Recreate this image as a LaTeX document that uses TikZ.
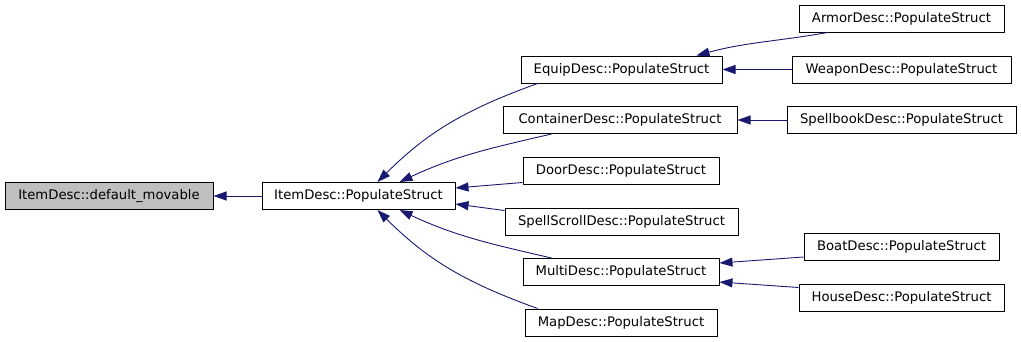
\documentclass[tikz,border=0pt]{standalone}
\usepackage{fontspec}
\setmainfont{DejaVu Sans}
\usetikzlibrary{arrows.meta}
\definecolor{edgecol}{HTML}{191970}
\definecolor{grayfill}{HTML}{BFBFBF}
\tikzset{
  box/.style={draw=black, line width=1pt, rectangle, minimum height=27pt, inner sep=0pt,
    font=\fontsize{13.2}{15}\selectfont, fill=white},
  edge/.style={draw=edgecol, line width=0.9pt, -{Triangle[length=13pt,width=9pt,fill=edgecol]}},
}
\begin{document}
\begin{tikzpicture}[x=1pt,y=-1pt]
\useasboundingbox (0,0) rectangle (1021,341);
\node[box, fill=grayfill, minimum width=208pt] (dm) at (109,196) {ItemDesc::default\_movable};
\node[box, minimum width=193pt] (ip) at (358.5,196) {ItemDesc::PopulateStruct};
\node[box, minimum width=201pt] (eq) at (621.5,69.5) {EquipDesc::PopulateStruct};
\node[box, minimum width=234pt] (co) at (620,120) {ContainerDesc::PopulateStruct};
\node[box, minimum width=196pt] (do) at (621,170.5) {DoorDesc::PopulateStruct};
\node[box, minimum width=233pt] (ss) at (621.5,221.5) {SpellScrollDesc::PopulateStruct};
\node[box, minimum width=196pt] (mu) at (621,272) {MultiDesc::PopulateStruct};
\node[box, minimum width=192pt] (ma) at (621,322.5) {MapDesc::PopulateStruct};
\node[box, minimum width=205pt] (ar) at (901.5,18.5) {ArmorDesc::PopulateStruct};
\node[box, minimum width=219pt] (we) at (901.5,69.5) {WeaponDesc::PopulateStruct};
\node[box, minimum width=229pt] (sb) at (901.5,120) {SpellbookDesc::PopulateStruct};
\node[box, minimum width=195pt] (bo) at (901.5,247) {BoatDesc::PopulateStruct};
\node[box, minimum width=205pt] (ho) at (901.5,297.5) {HouseDesc::PopulateStruct};

\draw[edge] (ip.west) -- (dm.east);
\draw[edge] ([xshift=17pt]eq.south west) to[out=200,in=45] ([xshift=116pt]ip.north west);
\draw[edge] ([xshift=49pt]co.south west) to[out=193,in=25] ([xshift=138pt]ip.north west);
\draw[edge] ([yshift=2pt]do.south west) -- ([yshift=8pt]ip.east);
\draw[edge] ([yshift=-3pt]ss.north west) -- ([yshift=-8pt]ip.east);
\draw[edge] ([xshift=29pt]mu.north west) to[out=167,in=-25] ([xshift=138pt]ip.south west);
\draw[edge] ([xshift=13pt]ma.north west) to[out=160,in=-45] ([xshift=116pt]ip.south west);
\draw[edge] ([xshift=29pt]ar.south west) to[out=190,in=15] ([xshift=176pt]eq.north west);
\draw[edge] (we.west) -- (eq.east);
\draw[edge] (sb.west) -- (co.east);
\draw[edge] ([yshift=4pt]bo.south west) -- ([yshift=9pt]mu.east);
\draw[edge] ([yshift=-4pt]ho.north west) -- ([yshift=-10pt]mu.east);
\end{tikzpicture}
\end{document}
